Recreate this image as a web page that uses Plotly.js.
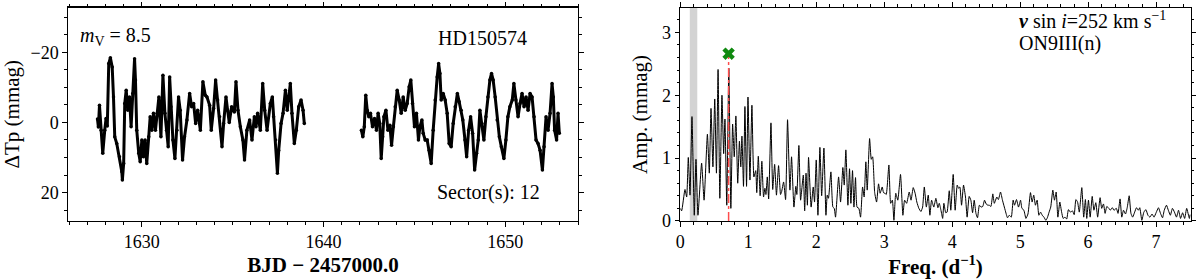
<!DOCTYPE html>
<html>
<head>
<meta charset="utf-8">
<script src="https://cdn.plot.ly/plotly-3.0.1.min.js"></script>
<style>
  html, body { margin: 0; padding: 0; background: #ffffff; }
  #chart { width: 1200px; height: 280px; }
</style>
</head>
<body>
<div id="chart"></div>
<script>
// ---------- Light curve (Sector 12), BJD - 2457000.0 vs ΔTp (mmag) ----------
const sec1Time = [1627.56,1627.61,1627.67,1627.76,1627.85,1627.96,1628.03,1628.10,1628.18,1628.27,1628.37,1628.44,1628.51,1628.62,1628.77,1628.90,1628.93,1629.00,1629.06,1629.14,1629.23,1629.32,1629.41,1629.50,1629.60,1629.65,1629.72,1629.83,1629.91,1630.00,1630.09,1630.18,1630.27,1630.38,1630.46,1630.55,1630.64,1630.75,1630.84,1630.94,1631.05,1631.16,1631.27,1631.36,1631.45,1631.53,1631.60,1631.71,1631.82,1631.93,1632.02,1632.11,1632.24,1632.35,1632.48,1632.63,1632.74,1632.85,1632.96,1633.07,1633.22,1633.36,1633.49,1633.58,1633.73,1633.82,1633.95,1634.06,1634.17,1634.28,1634.41,1634.50,1634.63,1634.72,1634.81,1634.94,1635.09,1635.18,1635.29,1635.42,1635.56,1635.65,1635.78,1635.93,1636.06,1636.19,1636.28,1636.37,1636.52,1636.65,1636.76,1636.89,1637.07,1637.18,1637.25,1637.36,1637.46,1637.53,1637.66,1637.77,1637.90,1638.00,1638.10,1638.17,1638.26,1638.39,1638.50,1638.63,1638.76,1638.87,1638.94];
const sec1Flux = [-1.0,1.3,-4.9,2.2,8.8,2.2,-1.1,1.0,-16.8,-18.5,-15.8,-7.3,4.1,6.0,9.8,14.1,16.4,11.7,-5.4,-9.2,-3.5,-7.3,1.2,-8.3,-18.2,-12.1,2.2,8.8,11.2,5.0,9.8,5.0,11.7,4.1,-1.6,2.2,-2.6,2.2,-2.6,-7.3,4.1,-13.5,-2.6,2.2,6.9,-13.0,-4.5,5.0,10.3,2.2,-7.3,-3.5,10.7,4.1,-0.7,-8.3,-4.5,-5.4,0.3,-3.5,2.2,-11.6,-7.8,-7.3,-4.9,2.2,-4.0,-12.1,-6.4,-1.6,6.9,0.3,-7.3,-3.5,0.0,-4.5,-3.0,-11.6,-3.5,1.2,5.0,10.7,2.2,-0.7,5.0,-1.6,1.2,-2.6,2.2,-11.1,-3.5,2.2,-5.4,-7.3,-1.6,5.0,14.5,8.0,0.3,-2.6,-9.2,-3.5,-7.3,-11.1,-2.6,6.0,2.2,-4.5,-6.4,-3.5,0.3];

const sec2Time = [1642.08,1642.16,1642.24,1642.32,1642.40,1642.49,1642.58,1642.69,1642.80,1642.91,1643.00,1643.09,1643.17,1643.25,1643.32,1643.43,1643.54,1643.65,1643.74,1643.84,1643.94,1644.05,1644.16,1644.27,1644.38,1644.49,1644.60,1644.71,1644.80,1644.89,1645.00,1645.11,1645.22,1645.30,1645.41,1645.48,1645.59,1645.70,1645.81,1645.92,1646.03,1646.14,1646.25,1646.33,1646.40,1646.47,1646.58,1646.69,1646.80,1646.91,1647.02,1647.13,1647.24,1647.36,1647.46,1647.57,1647.66,1647.78,1647.87,1647.98,1648.09,1648.20,1648.31,1648.42,1648.51,1648.60,1648.71,1648.82,1648.93,1649.04,1649.15,1649.24,1649.33,1649.44,1649.55,1649.67,1649.78,1649.92,1650.03,1650.14,1650.25,1650.38,1650.47,1650.58,1650.70,1650.81,1650.92,1651.03,1651.14,1651.25,1651.36,1651.47,1651.58,1651.69,1651.80,1651.91,1652.04,1652.13,1652.24,1652.35,1652.46,1652.57,1652.64,1652.71,1652.82,1652.90,1652.97];
const sec2Flux = [2.2,4.1,1.2,-7.8,-3.5,-1.6,-2.6,1.2,-1.1,2.2,-2.6,0.3,10.3,4.1,-1.6,-3.5,2.2,0.8,6.5,1.2,-4.5,-9.2,-6.4,-2.6,-7.3,-3.5,-5.4,-10.2,-12.1,-5.4,1.2,-2.6,5.0,1.2,-0.7,3.1,5.0,5.0,7.9,11.7,2.2,-6.4,-13.0,-16.8,-14.0,-6.4,-8.3,-6.4,-2.6,6.0,6.9,0.3,-4.5,-8.3,-5.9,-3.5,-0.7,5.0,9.8,2.2,-1.6,3.1,13.6,8.8,5.0,-3.5,0.3,5.0,-1.6,-7.3,-12.1,-14.0,-12.1,-7.3,-0.7,4.1,6.9,10.3,5.0,-1.6,-4.5,-6.4,-11.1,-6.4,-1.6,-5.4,-8.3,-4.5,-7.3,-3.5,-8.3,-7.3,-1.6,5.0,6.0,7.9,13.6,6.9,-1.6,2.2,-2.6,-11.1,-7.3,2.2,5.0,-2.6,3.1];

// ---------- Amplitude spectrum, Freq (d^-1) vs Amp (mmag) ----------
const specFreq = [0.000,0.020,0.069,0.094,0.118,0.143,0.172,0.206,0.231,0.260,0.314,0.350,0.399,0.427,0.452,0.480,0.507,0.532,0.556,0.582,0.613,0.638,0.657,0.684,0.714,0.744,0.770,0.794,0.818,0.845,0.870,0.890,0.907,0.930,0.951,0.975,0.996,1.025,1.054,1.083,1.110,1.125,1.148,1.175,1.200,1.225,1.245,1.260,1.280,1.300,1.334,1.360,1.388,1.415,1.446,1.475,1.490,1.520,1.549,1.578,1.613,1.637,1.672,1.700,1.715,1.745,1.770,1.810,1.830,1.850,1.870,1.887,1.925,1.956,1.975,2.000,2.025,2.054,2.080,2.113,2.143,2.162,2.180,2.216,2.245,2.265,2.284,2.329,2.358,2.392,2.412,2.436,2.466,2.490,2.510,2.534,2.555,2.578,2.600,2.627,2.652,2.682,2.705,2.730,2.750,2.785,2.810,2.830,2.860,2.888,2.917,2.940,2.971,2.990,3.010,3.030,3.069,3.095,3.120,3.143,3.170,3.200,3.240,3.275,3.300,3.330,3.368,3.395,3.427,3.455,3.480,3.510,3.540,3.565,3.590,3.620,3.648,3.672,3.697,3.730,3.760,3.790,3.810,3.835,3.860,3.878,3.905,3.925,3.957,3.980,4.015,4.044,4.074,4.094,4.113,4.138,4.167,4.196,4.220,4.250,4.275,4.300,4.324,4.350,4.373,4.400,4.425,4.450,4.476,4.500,4.525,4.545,4.570,4.598,4.620,4.657,4.680,4.711,4.740,4.780,4.814,4.840,4.870,4.897,4.917,4.946,4.976,5.006,5.026,5.055,5.085,5.115,5.152,5.176,5.200,5.225,5.250,5.275,5.300,5.325,5.350,5.378,5.400,5.426,5.450,5.481,5.505,5.530,5.555,5.584,5.610,5.633,5.660,5.685,5.710,5.740,5.770,5.795,5.820,5.845,5.870,5.907,5.935,5.960,5.980,6.005,6.030,6.060,6.085,6.113,6.140,6.176,6.200,6.226,6.250,6.275,6.305,6.325,6.357,6.380,6.415,6.440,6.470,6.495,6.520,6.550,6.575,6.604,6.630,6.655,6.685,6.711,6.740,6.760,6.790,6.820,6.850,6.880,6.910,6.940,6.970,7.000,7.035,7.065,7.095,7.120,7.153,7.180,7.210,7.240,7.270,7.300,7.330,7.360,7.390,7.420,7.450,7.490,7.500];
const specAmp = [0.20,0.16,0.50,0.38,1.01,0.41,1.66,0.09,0.98,0.09,0.92,0.33,1.38,0.76,1.79,0.86,1.94,0.76,2.41,0.36,2.00,1.07,1.62,0.25,2.43,0.20,1.54,1.02,1.67,0.60,1.27,0.86,1.35,0.55,1.82,0.55,1.97,0.65,1.84,0.70,0.80,0.45,1.03,0.40,0.95,0.38,0.52,0.42,0.70,0.35,1.56,0.50,0.90,0.41,0.88,0.42,0.46,0.62,0.34,1.61,0.49,1.02,0.22,0.55,0.42,1.20,0.33,0.73,0.16,0.76,0.25,1.01,0.22,0.54,0.30,0.97,0.09,1.17,0.40,1.16,0.09,0.41,0.36,0.78,0.22,0.20,0.06,0.70,0.30,0.85,0.57,1.13,0.25,0.83,0.28,0.80,0.22,0.69,0.22,0.20,0.06,0.54,0.38,0.94,0.49,1.31,0.98,1.02,0.45,0.30,0.59,0.44,0.54,0.45,0.44,0.42,0.89,0.28,0.33,0.01,0.44,0.33,0.74,0.09,0.33,0.28,0.46,0.33,0.53,0.44,0.30,0.20,0.15,0.22,0.54,0.22,0.41,0.09,0.33,0.22,0.36,0.21,0.28,0.17,0.04,0.28,0.13,0.14,0.48,0.17,0.74,0.17,0.57,0.52,0.54,0.25,0.57,0.38,0.06,0.39,0.33,0.13,0.33,0.12,0.05,0.25,0.22,0.23,0.33,0.27,0.25,0.25,0.23,0.43,0.28,0.38,0.34,0.46,0.33,0.17,0.05,0.09,0.06,0.33,0.25,0.34,0.22,0.33,0.20,0.17,0.04,0.11,0.45,0.30,0.41,0.25,0.33,0.09,0.14,0.09,0.06,0.01,0.05,0.14,0.22,0.49,0.33,0.46,0.06,0.30,0.14,0.04,0.06,0.03,0.18,0.14,0.16,0.10,0.34,0.30,0.14,0.53,0.06,0.34,0.04,0.33,0.06,0.39,0.17,0.29,0.06,0.37,0.20,0.27,0.12,0.23,0.20,0.17,0.21,0.17,0.20,0.12,0.35,0.06,0.17,0.11,0.21,0.40,0.12,0.06,0.14,0.21,0.17,0.21,0.01,0.14,0.18,0.09,0.06,0.11,0.06,0.13,0.21,0.12,0.05,0.17,0.25,0.17,0.09,0.20,0.14,0.06,0.17,0.04,0.13,0.04,0.20,0.04,0.10];

// dominant frequency and marker
const peakFreq = [0.711];
const peakAmp = [2.66];
// shaded low-frequency band (d^-1)
const bandFreq = [0.14, 0.25];

// tick labels
const lcXTicks = [1630, 1640, 1650];
const lcYTicks = [-20, 0, 20];
const lcYTickText = ['\u221220', '0', '20'];
const spXTicks = [0, 1, 2, 3, 4, 5, 6, 7];
const spYTicks = [0, 1, 2, 3];

const FONT = 'Liberation Serif, Times New Roman, serif';

const lcStyle = {
  type: 'scatter', mode: 'lines+markers',
  line: {color: '#000000', width: 3},
  marker: {color: '#000000', size: 3.5},
  xaxis: 'x', yaxis: 'y', hoverinfo: 'skip'
};

const traces = [
  Object.assign({x: sec1Time, y: sec1Flux}, lcStyle),
  Object.assign({x: sec2Time, y: sec2Flux}, lcStyle),
  {
    type: 'scatter', mode: 'lines', x: specFreq, y: specAmp,
    line: {color: '#000000', width: 1, shape: 'spline', smoothing: 0.45},
    xaxis: 'x2', yaxis: 'y2', hoverinfo: 'skip'
  },
  {
    type: 'scatter', mode: 'lines',
    x: [peakFreq[0], peakFreq[0]], y: [0, peakAmp[0]],
    line: {color: '#ff4c4c', width: 1.5, dash: 'dashdot'},
    xaxis: 'x2', yaxis: 'y2', hoverinfo: 'skip'
  },
  {
    type: 'scatter', mode: 'markers', x: peakFreq, y: peakAmp,
    marker: {symbol: 'x', color: '#108a10', size: 11, line: {width: 0}},
    xaxis: 'x2', yaxis: 'y2', hoverinfo: 'skip'
  }
];

const axisBase = {
  showline: true, linecolor: '#000000', linewidth: 1.2, mirror: 'allticks',
  ticks: 'outside', ticklen: 4.5, tickwidth: 1.1, tickcolor: '#000000',
  showgrid: false, zeroline: false,
  tickfont: {family: FONT, size: 18, color: '#000000'}
};
function ax(extra) { return Object.assign({}, axisBase, extra); }

const layout = {
  width: 1200, height: 280,
  margin: {l: 0, r: 0, t: 0, b: 0},
  paper_bgcolor: '#ffffff', plot_bgcolor: '#ffffff',
  showlegend: false,
  font: {family: FONT, color: '#000000'},
  xaxis: ax({
    domain: [0.0567, 0.4817], range: [1625.94, 1654.0],
    tickmode: 'array', tickvals: lcXTicks,
    minor: {dtick: 1, tick0: 1630, ticks: 'outside', ticklen: 2.5, tickwidth: 1, tickcolor: '#000000'},
    title: {text: '<b>BJD \u2212 2457000.0</b>', font: {family: FONT, size: 21}, standoff: 6},
    anchor: 'y'
  }),
  yaxis: ax({
    domain: [0.211, 0.973], range: [28.1, -32.8],
    tickmode: 'array', tickvals: lcYTicks, ticktext: lcYTickText,
    minor: {dtick: 5, tick0: 0, ticks: 'outside', ticklen: 2.5, tickwidth: 1, tickcolor: '#000000'},
    title: {text: '\u0394Tp (mmag)', font: {family: FONT, size: 21}, standoff: 8},
    anchor: 'x'
  }),
  xaxis2: ax({
    domain: [0.5669, 0.9923], range: [0, 7.51],
    tickmode: 'array', tickvals: spXTicks,
    minor: {dtick: 0.2, tick0: 0, ticks: 'outside', ticklen: 2.5, tickwidth: 1, tickcolor: '#000000'},
    title: {text: '<b>Freq. (d<sup>\u22121</sup>)</b>', font: {family: FONT, size: 21}, standoff: 6},
    anchor: 'y2'
  }),
  yaxis2: ax({
    domain: [0.211, 0.972], range: [0, 3.39],
    tickmode: 'array', tickvals: spYTicks,
    minor: {dtick: 0.2, tick0: 0, ticks: 'outside', ticklen: 2.5, tickwidth: 1, tickcolor: '#000000'},
    title: {text: 'Amp. (mmag)', font: {family: FONT, size: 21}, standoff: 8},
    anchor: 'x2'
  }),
  shapes: [{
    type: 'rect', xref: 'x2', yref: 'y2 domain',
    x0: bandFreq[0], x1: bandFreq[1], y0: 0, y1: 1,
    fillcolor: '#d3d3d3', line: {width: 0}, layer: 'below'
  }],
  annotations: [
    {xref: 'paper', yref: 'paper', x: 0.065, y: 0.868, xanchor: 'left', yanchor: 'middle',
     text: '<i>m</i><sub>V</sub> = 8.5', showarrow: false, font: {family: FONT, size: 20}},
    {xref: 'paper', yref: 'paper', x: 0.3633, y: 0.864, xanchor: 'left', yanchor: 'middle',
     text: 'HD150574', showarrow: false, font: {family: FONT, size: 20}},
    {xref: 'paper', yref: 'paper', x: 0.3625, y: 0.311, xanchor: 'left', yanchor: 'middle',
     text: 'Sector(s): 12', showarrow: false, font: {family: FONT, size: 20}},
    {xref: 'paper', yref: 'paper', x: 0.8475, y: 0.93, xanchor: 'left', yanchor: 'middle',
     text: '<b><i>v</i></b> sin <i>i</i>=252 km s<sup>\u22121</sup>', showarrow: false, font: {family: FONT, size: 20}},
    {xref: 'paper', yref: 'paper', x: 0.8475, y: 0.846, xanchor: 'left', yanchor: 'middle',
     text: 'ON9III(n)', showarrow: false, font: {family: FONT, size: 20}}
  ]
};

Plotly.newPlot('chart', traces, layout, {staticPlot: true, displayModeBar: false});
</script>
</body>
</html>
